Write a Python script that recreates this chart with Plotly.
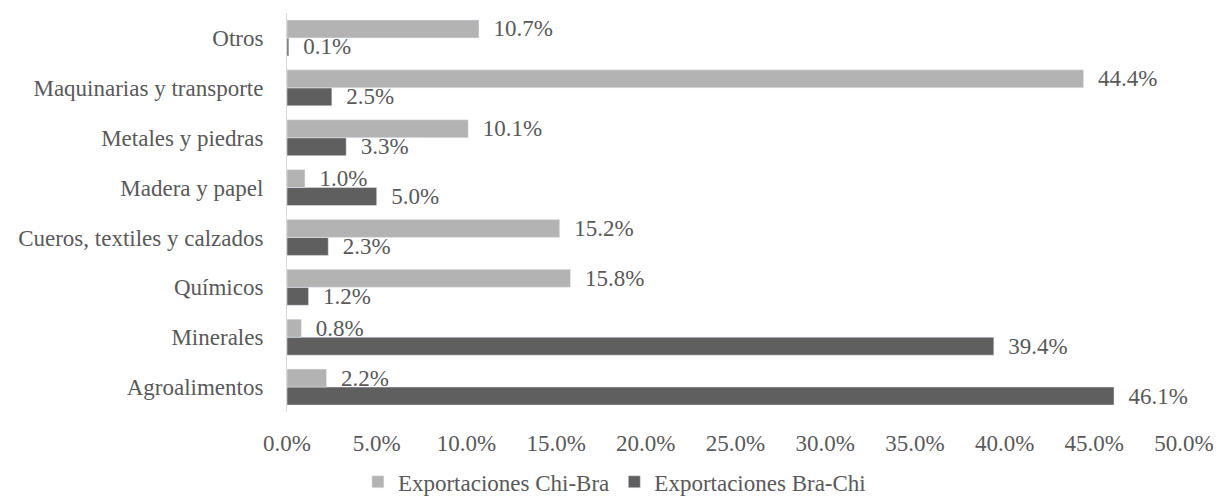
import plotly.graph_objects as go

# Sectors, listed bottom to top as drawn on the category axis
categorias = [
    "Agroalimentos",
    "Minerales",
    "Químicos",
    "Cueros, textiles y calzados",
    "Madera y papel",
    "Metales y piedras",
    "Maquinarias y transporte",
    "Otros",
]

# Share of total exports by sector (%)
chi_bra = [2.2, 0.8, 15.8, 15.2, 1.0, 10.1, 44.4, 10.7]
bra_chi = [46.1, 39.4, 1.2, 2.3, 5.0, 3.3, 2.5, 0.1]

tick_vals = [0, 5, 10, 15, 20, 25, 30, 35, 40, 45, 50]

FONT = "Liberation Serif, Times New Roman, serif"
TXT = "#595959"
SIZE = 23
PAD = "\u00a0\u00a0"

fig = go.Figure()

# Bra-Chi added first so it sits at the bottom of each pair
fig.add_trace(go.Bar(
    y=categorias, x=bra_chi, orientation="h",
    name="Exportaciones Bra-Chi",
    marker=dict(color="#5f5f5f"),
    texttemplate=PAD + "%{x:.1f}%", textposition="outside",
    textfont=dict(family=FONT, size=SIZE, color=TXT),
    constraintext="none", cliponaxis=False,
    legendrank=2,
))
fig.add_trace(go.Bar(
    y=categorias, x=chi_bra, orientation="h",
    name="Exportaciones Chi-Bra",
    marker=dict(color="#b3b3b3"),
    texttemplate=PAD + "%{x:.1f}%", textposition="outside",
    textfont=dict(family=FONT, size=SIZE, color=TXT),
    constraintext="none", cliponaxis=False,
    legendrank=1,
))

fig.update_layout(
    width=1217, height=503,
    margin=dict(l=287, r=33, t=13, b=91, autoexpand=False),
    paper_bgcolor="white", plot_bgcolor="white",
    barmode="group", bargap=0.28, bargroupgap=0,
    font=dict(family=FONT, size=SIZE, color=TXT),
    showlegend=True,
    legend=dict(
        orientation="h", x=0.365, xanchor="center",
        y=-0.175, yanchor="middle",
        font=dict(family=FONT, size=SIZE, color=TXT),
        itemwidth=30,
    ),
    xaxis=dict(
        range=[0, 50], tickvals=tick_vals,
        ticktext=[f"{v:.1f}%" for v in tick_vals],
        showgrid=False, zeroline=False, showline=False,
        ticks="", ticklabelstandoff=15, automargin=False,
        tickfont=dict(family=FONT, size=SIZE, color=TXT),
    ),
    yaxis=dict(
        type="category", categoryorder="array", categoryarray=categorias,
        showgrid=False, zeroline=False,
        showline=True, linecolor="#d9d9d9", linewidth=1,
        ticks="", ticklabelstandoff=18, automargin=False,
        tickfont=dict(family=FONT, size=SIZE, color=TXT),
    ),
)

fig.write_html("out.html")
